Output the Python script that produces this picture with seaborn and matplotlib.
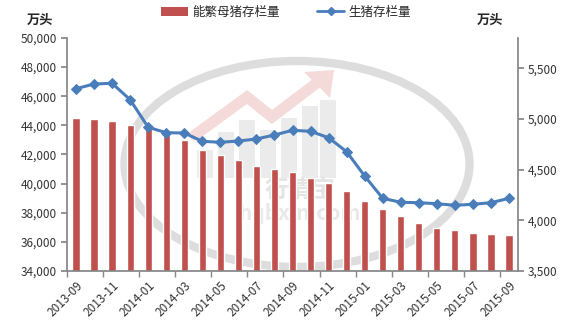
import matplotlib
matplotlib.use("Agg")
import matplotlib.pyplot as plt
import seaborn as sns
import pandas as pd
import numpy as np
from matplotlib.patches import Ellipse, Patch, Rectangle, Polygon
from matplotlib.lines import Line2D
from matplotlib.ticker import FuncFormatter, FixedLocator

months = ["2013-09", "2013-10", "2013-11", "2013-12", "2014-01", "2014-02", "2014-03",
          "2014-04", "2014-05", "2014-06", "2014-07", "2014-08", "2014-09", "2014-10",
          "2014-11", "2014-12", "2015-01", "2015-02", "2015-03", "2015-04", "2015-05",
          "2015-06", "2015-07", "2015-08", "2015-09"]
sows = [5007, 4997, 4978, 4938, 4925, 4852, 4793, 4694, 4642, 4596, 4537, 4507, 4477,
        4421, 4372, 4293, 4191, 4115, 4046, 3974, 3924, 3905, 3875, 3865, 3858]
hogs = [46519, 46841, 46889, 45763, 43868, 43497, 43476, 42906, 42838, 42927, 43064,
        43339, 43662, 43593, 43154, 42192, 40524, 38992, 38718, 38690, 38621, 38512,
        38580, 38690, 38992]
bar_name = "能繁母猪存栏量"
line_name = "生猪存栏量"
unit = "万头"

sns.set_theme(style="white")
plt.rcParams['font.family'] = ['Noto Sans CJK SC', 'DejaVu Sans']

df = pd.DataFrame({"month": months, "sows": sows, "hogs": hogs, "pos": np.arange(len(months))})

L, R, T, B = 67, 518, 38, 271
fig = plt.figure(figsize=(5.83, 3.28), dpi=100)
ax_bar = fig.add_axes([L/583, 1-B/328, (R-L)/583, (B-T)/328])


def fa(x, y):
    return ((x - L) / (R - L), (B - y) / (B - T))


# watermark (ring, logo, text)
ax_bar.add_patch(Ellipse(fa(297, 164), 345/(R-L), 206/(B-T), transform=ax_bar.transAxes,
                         fill=False, edgecolor="#dddddd", linewidth=6, zorder=0))
for xc, ytop in [(205, 150), (226, 132), (247, 120), (268, 130), (289, 118), (310, 106),
                 (328, 100)]:
    x0, y0 = fa(xc - 8, 178)
    x1, y1 = fa(xc + 8, ytop)
    ax_bar.add_patch(Rectangle((x0, y0), x1 - x0, y1 - y0, transform=ax_bar.transAxes,
                               facecolor="#ebebeb", edgecolor="none", zorder=0))
pts = [fa(195, 135), fa(247, 97), fa(272, 117), fa(318, 82)]
ax_bar.add_line(Line2D([p[0] for p in pts], [p[1] for p in pts], transform=ax_bar.transAxes,
                       color="#f5dada", linewidth=8, solid_joinstyle="miter", zorder=0))
ax_bar.add_patch(Polygon([fa(334, 70), fa(304, 72), fa(330, 98)], closed=True,
                         transform=ax_bar.transAxes, facecolor="#f5dada", edgecolor="none",
                         zorder=0))
ax_bar.text(*fa(300, 190), "行情宝", transform=ax_bar.transAxes, ha="center", va="center",
            fontsize=17, color="#e4e4e4", zorder=0, fontweight="bold")
ax_bar.text(*fa(300, 213), "hqbxin.com", transform=ax_bar.transAxes, ha="center", va="center",
            fontsize=15, color="#e8e8e8", zorder=0, fontweight="bold")

sns.barplot(data=df, x="month", y="sows", color="#C0504D", saturation=1, width=0.4,
            ax=ax_bar, zorder=2)
ax_bar.set_xlabel("")
ax_bar.set_ylabel("")

ax_line = ax_bar.twinx()
sns.lineplot(data=df, x="pos", y="hogs", color="#4A7EBB", linewidth=2.2, marker="D",
             markersize=5.5, markeredgecolor="#4A7EBB", ax=ax_line)
ax_line.set_xlabel("")
ax_line.set_ylabel("")
if ax_line.get_legend() is not None:
    ax_line.get_legend().remove()

# right axis: sows
ax_bar.set_ylim(3500, 5800)
ax_bar.set_xlim(-0.5, len(months) - 0.5)
ax_bar.yaxis.tick_right()
ax_bar.yaxis.set_major_locator(FixedLocator([3500, 4000, 4500, 5000, 5500]))
ax_bar.yaxis.set_major_formatter(FuncFormatter(lambda v, p: f"{v:,.0f}"))
ax_bar.tick_params(axis="y", labelsize=8.5, labelcolor="#333333", length=4, color="#868686",
                   right=True, left=False, labelright=True, labelleft=False, direction="out",
                   pad=3)

# left axis: hogs
ax_line.set_ylim(34000, 50000)
ax_line.yaxis.tick_left()
ax_line.yaxis.set_major_locator(FixedLocator(list(range(34000, 50001, 2000))))
ax_line.yaxis.set_major_formatter(FuncFormatter(lambda v, p: f"{v:,.0f}"))
ax_line.tick_params(axis="y", labelsize=8.5, labelcolor="#333333", length=4, color="#868686",
                    left=True, right=False, labelleft=True, labelright=False, direction="out",
                    pad=3)

# x axis on bar axes: labels at every other month, tick marks at boundaries
ax_bar.set_xticks(np.arange(0, len(months), 2))
ax_bar.set_xticklabels([months[i] for i in range(0, len(months), 2)], rotation=45,
                       ha="right", rotation_mode="anchor", fontsize=8.5, color="#333333")
ax_bar.set_xticks(np.arange(-0.5, len(months), 2), minor=True)
ax_bar.tick_params(axis="x", which="major", length=0, pad=6)
ax_bar.tick_params(axis="x", which="minor", length=4, color="#868686", direction="out",
                   bottom=True)
ax_line.set_xlim(-0.5, len(months) - 0.5)

for a in (ax_bar, ax_line):
    a.spines["top"].set_visible(False)
ax_bar.spines["left"].set_visible(False)
ax_bar.spines["right"].set_visible(False)
ax_bar.spines["bottom"].set_color("#868686")
ax_line.spines["bottom"].set_visible(False)
ax_line.spines["right"].set_color("#868686")
ax_line.spines["left"].set_color("#868686")

fig.text(40/583, 1-20/328, unit, ha="center", va="center", fontsize=9.5, fontweight="bold")
fig.text(490/583, 1-20/328, unit, ha="center", va="center", fontsize=9.5, fontweight="bold")

handles = [Patch(facecolor="#C0504D", edgecolor="none"),
           Line2D([0], [0], color="#4A7EBB", lw=2, marker="D", markersize=4)]
fig.legend(handles, [bar_name, line_name], loc="center", bbox_to_anchor=(0.49, 1-12/328),
           ncol=2, frameon=False, fontsize=9, handlelength=2.2, handleheight=0.7,
           columnspacing=3.0, handletextpad=0.3)

fig.savefig("out.png", dpi=100)
